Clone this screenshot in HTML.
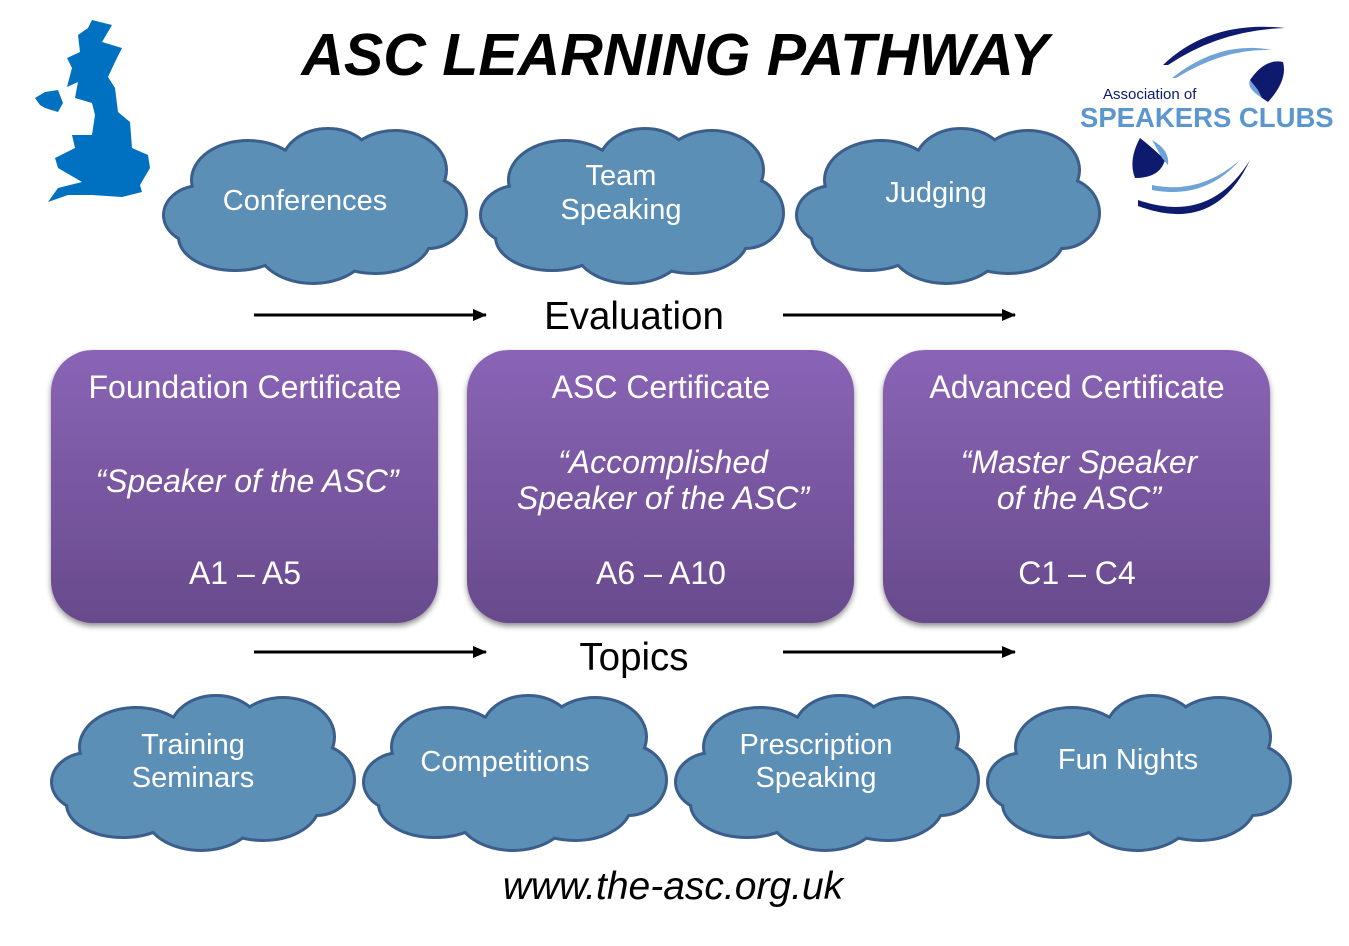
<!DOCTYPE html>
<html><head><meta charset="utf-8"><style>
html,body{margin:0;padding:0;background:#fff;}
svg{display:block;}
text{font-family:"Liberation Sans",Arial,sans-serif;}
</style></head><body>
<svg width="1349" height="946" viewBox="0 0 1349 946" xmlns="http://www.w3.org/2000/svg">
<defs>
<g id="cs">
<ellipse cx="38" cy="90" rx="36" ry="28"/>
<ellipse cx="85" cy="55" rx="55" ry="38"/>
<ellipse cx="165" cy="40" rx="45" ry="35"/>
<ellipse cx="232" cy="45" rx="50" ry="38"/>
<ellipse cx="265" cy="88" rx="37" ry="34"/>
<ellipse cx="212" cy="112" rx="55" ry="35"/>
<ellipse cx="150" cy="120" rx="55" ry="37"/>
<ellipse cx="72" cy="112" rx="55" ry="32"/>
<ellipse cx="150" cy="80" rx="110" ry="55"/>
</g>
<g id="cloud">
<use href="#cs" fill="#3b5e8c" stroke="#3b5e8c" stroke-width="6"/>
<use href="#cs" fill="#5b8fb5"/>
</g>
<linearGradient id="pg" x1="0" y1="0" x2="0" y2="1">
<stop offset="0" stop-color="#8a64b6"/><stop offset="1" stop-color="#684a8c"/>
</linearGradient>
<filter id="sh" x="-10%" y="-10%" width="120%" height="130%"><feDropShadow dx="0" dy="3" stdDeviation="3" flood-color="#000" flood-opacity="0.45"/></filter>
<marker id="ar" markerWidth="14" markerHeight="12" refX="13" refY="6" orient="auto" markerUnits="userSpaceOnUse"><path d="M0,0 L14,6 L0,12 z" fill="#000"/></marker>
</defs>

<!-- UK map -->
<path fill="#0070c0" d="M92,20 L112,25 L102,42 L122,48 L115,62 L108,77 L115,88 L118,112 L130,122 L132,148 L148,155 L150,168 L140,185 L142,192 L122,197 L92,195 L68,195 L48,202 L58,188 L82,182 L58,168 L55,158 L75,148 L72,135 L92,135 L95,115 L92,103 L75,98 L78,82 L67,87 L72,68 L67,58 L80,52 L78,35 L88,28 Z"/>
<path fill="#0070c0" d="M35,98 L45,92 L58,90 L63,103 L58,112 L45,108 L40,105 Z"/>

<text x="675" y="75" text-anchor="middle" font-size="59" font-weight="bold" font-style="italic" fill="#000">ASC LEARNING PATHWAY</text>

<!-- logo -->
<path d="M1163,65 Q1210,20 1285,28 Q1220,30 1168,65 Z" fill="#0d1a6e"/>
<path d="M1172,78 Q1220,40 1272,50 Q1225,48 1176,78 Z" fill="#6fa3d6"/>
<path d="M1250,80 Q1265,58 1283,62 Q1288,80 1268,102 L1262,98 Z" fill="#0d1a6e"/>
<path d="M1250,80 Q1246,88 1262,98 L1258,90 Z" fill="#6fa3d6"/>
<text x="1103" y="99" font-size="15" fill="#0d1a6e">Association of</text>
<text x="1080" y="127" font-size="27.5" font-weight="bold" fill="#5b96cf">SPEAKERS CLUBS</text>
<path d="M1140,138 Q1128,160 1135,178 Q1160,178 1165,160 Q1155,150 1140,138 Z" fill="#0d1a6e"/>
<path d="M1152,140 Q1170,150 1168,165 L1162,158 Z" fill="#6fa3d6"/>
<path d="M1152,185 Q1200,195 1240,160 Q1205,200 1152,190 Z" fill="#6fa3d6"/>
<path d="M1138,200 Q1210,225 1250,160 Q1215,235 1138,206 Z" fill="#0d1a6e"/>

<!-- top clouds -->
<use href="#cloud" transform="translate(163,125)"/>
<use href="#cloud" transform="translate(480,125)"/>
<use href="#cloud" transform="translate(796,125)"/>
<g fill="#fff" font-size="29" text-anchor="middle">
<text x="305" y="210">Conferences</text>
<text x="621" y="185">Team</text>
<text x="621" y="219">Speaking</text>
<text x="936" y="202">Judging</text>
</g>

<!-- evaluation -->
<line x1="254" y1="315" x2="486" y2="315" stroke="#000" stroke-width="3" marker-end="url(#ar)"/>
<line x1="783" y1="315" x2="1015" y2="315" stroke="#000" stroke-width="3" marker-end="url(#ar)"/>
<text x="634" y="329" text-anchor="middle" font-size="38.5" fill="#000">Evaluation</text>

<!-- boxes -->
<rect x="51" y="350" width="387" height="273" rx="42" fill="url(#pg)" filter="url(#sh)"/>
<rect x="467" y="350" width="387" height="273" rx="42" fill="url(#pg)" filter="url(#sh)"/>
<rect x="883" y="350" width="387" height="273" rx="42" fill="url(#pg)" filter="url(#sh)"/>
<g fill="#fff" font-size="32" text-anchor="middle">
<text x="245" y="398">Foundation Certificate</text>
<text x="247" y="492" font-style="italic">“Speaker of the ASC”</text>
<text x="245" y="584">A1 – A5</text>
<text x="661" y="398">ASC Certificate</text>
<text x="663" y="473" font-style="italic">“Accomplished</text>
<text x="663" y="509" font-style="italic">Speaker of the ASC”</text>
<text x="661" y="584">A6 – A10</text>
<text x="1077" y="398">Advanced Certificate</text>
<text x="1079" y="473" font-style="italic">“Master Speaker</text>
<text x="1079" y="509" font-style="italic">of the ASC”</text>
<text x="1077" y="584">C1 – C4</text>
</g>

<!-- topics -->
<line x1="254" y1="652" x2="486" y2="652" stroke="#000" stroke-width="3" marker-end="url(#ar)"/>
<line x1="783" y1="652" x2="1015" y2="652" stroke="#000" stroke-width="3" marker-end="url(#ar)"/>
<text x="634" y="670" text-anchor="middle" font-size="38.5" fill="#000">Topics</text>

<!-- bottom clouds -->
<use href="#cloud" transform="translate(51,692)"/>
<use href="#cloud" transform="translate(363,692)"/>
<use href="#cloud" transform="translate(675,692)"/>
<use href="#cloud" transform="translate(987,692)"/>
<g fill="#fff" font-size="29" text-anchor="middle">
<text x="193" y="754">Training</text>
<text x="193" y="787">Seminars</text>
<text x="505" y="771">Competitions</text>
<text x="816" y="754">Prescription</text>
<text x="816" y="787">Speaking</text>
<text x="1128" y="769">Fun Nights</text>
</g>

<text x="673" y="899" text-anchor="middle" font-size="39" font-style="italic" fill="#000">www.the-asc.org.uk</text>
</svg>
</body></html>
